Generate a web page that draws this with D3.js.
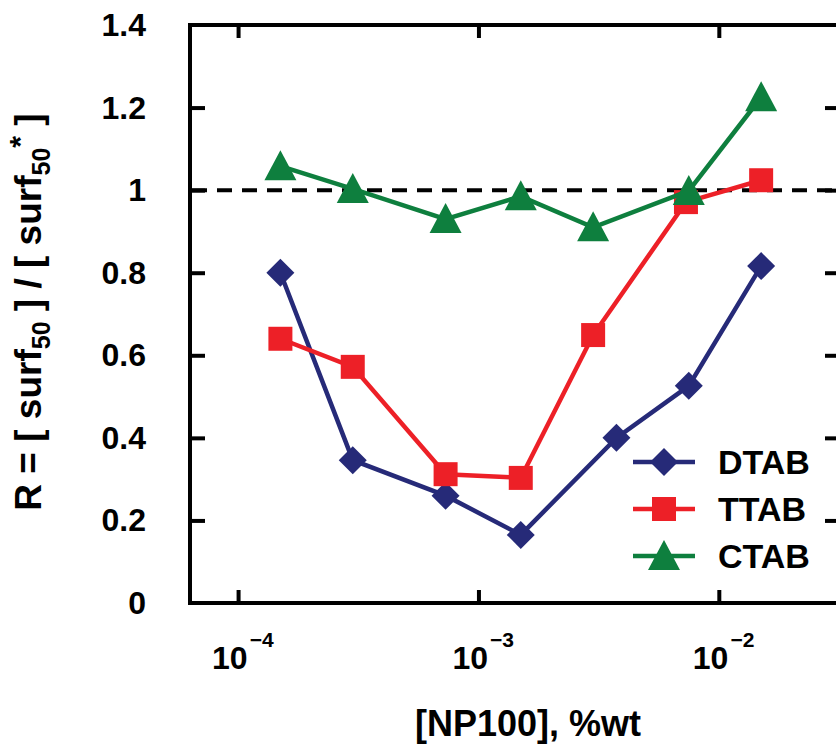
<!DOCTYPE html>
<html>
<head>
<meta charset="utf-8">
<script src="https://cdn.jsdelivr.net/npm/d3@7"></script>
<style>
  body { margin: 0; background: #fff; }
  text { font-family: "Liberation Sans", Arial, sans-serif; font-weight: bold; fill: #000; }
</style>
</head>
<body>
<svg width="836" height="749"></svg>
<script>
// data
var conc = [1.5e-4, 3e-4, 7.3e-4, 1.5e-3, 3.75e-3, 7.5e-3, 1.5e-2];
var concT = [1.5e-4, 3e-4, 7.3e-4, 1.5e-3, 3e-3, 7.3e-3, 1.5e-2];
var concC = [1.5e-4, 3e-4, 7.3e-4, 1.5e-3, 3e-3, 7.5e-3, 1.5e-2];
var dtab = [0.80, 0.346, 0.26, 0.165, 0.40, 0.526, 0.816];
var ttab = [0.64, 0.572, 0.312, 0.303, 0.649, 0.971, 1.024];
var ctab = [1.058, 1.003, 0.93, 0.985, 0.91, 0.998, 1.225];
var xDomain = [Math.pow(10, -4.2), Math.pow(10, -1.5)];
var yTicks = [0, 0.2, 0.4, 0.6, 0.8, 1, 1.2, 1.4];
var xTicks = [1e-4, 1e-3, 1e-2];
var xExp = ["4", "3", "2"];
var names = ["DTAB", "TTAB", "CTAB"];
var colors = ["#262a78", "#ed2027", "#0e7f3e"];

var svg = d3.select("svg");
var L = 190, R = 839, T = 25, B = 603;

var x = d3.scaleLog().domain(xDomain).range([L, R]);
var y = d3.scaleLinear().domain([0, 1.4]).range([B, T]);

// ticks (inward)
function styleAxis(g) {
    g.select(".domain").remove();
    g.selectAll(".tick line").attr("stroke", "#000").attr("stroke-width", 4);
    g.selectAll(".tick text").remove();
}
svg.append("g").attr("transform", "translate(" + L + ",0)")
    .call(d3.axisRight(y).tickValues(yTicks.slice(1, 7)).tickSize(15)).call(styleAxis);
svg.append("g").attr("transform", "translate(" + R + ",0)")
    .call(d3.axisLeft(y).tickValues(yTicks.slice(1, 7)).tickSize(14)).call(styleAxis);
svg.append("g").attr("transform", "translate(0," + B + ")")
    .call(d3.axisTop(x).tickValues(xTicks).tickSize(13)).call(styleAxis);
svg.append("g").attr("transform", "translate(0," + T + ")")
    .call(d3.axisBottom(x).tickValues(xTicks).tickSize(13)).call(styleAxis);

// frame
svg.append("path")
    .attr("d", "M" + R + "," + T + "H" + L + "V" + B + "H" + R)
    .attr("fill", "none").attr("stroke", "#000").attr("stroke-width", 4);

// y tick labels
svg.selectAll("text.ylab").data(yTicks).enter().append("text")
    .attr("class", "ylab")
    .attr("x", 146).attr("y", function (d) { return y(d) + 11; })
    .attr("text-anchor", "end").attr("font-size", 32)
    .text(function (d) { return d; });

// x tick labels 10^-n
xTicks.forEach(function (t, i) {
    var tx = svg.append("text").attr("x", x(t) - 26).attr("y", 669).attr("font-size", 32);
    tx.append("tspan").text("10");
    tx.append("tspan").attr("dy", -22).attr("dx", 2).attr("font-size", 21).text("\u2212" + xExp[i]);
});

// reference line
svg.append("line")
    .attr("x1", L + 2).attr("x2", R).attr("y1", y(1)).attr("y2", y(1))
    .attr("stroke", "#000").attr("stroke-width", 4).attr("stroke-dasharray", "15,10");

// series
var series = [
    { xs: conc, ys: dtab, sym: "diamond" },
    { xs: concT, ys: ttab, sym: "square" },
    { xs: concC, ys: ctab, sym: "triangle" }
];
var line = d3.line().x(function (d) { return x(d[0]); }).y(function (d) { return y(d[1]); });

function marker(sel, s, c) {
    if (s.sym === "diamond") {
        sel.attr("d", "M0,-14L14,0L0,14L-14,0Z").attr("fill", c);
    } else if (s.sym === "triangle") {
        sel.attr("d", "M0,-16L16,14L-16,14Z").attr("fill", c);
    } else {
        sel.attr("d", "M-12,-12H12V12H-12Z").attr("fill", c);
    }
}

series.forEach(function (s, i) {
    var pts = s.xs.map(function (v, j) { return [v, s.ys[j]]; });
    svg.append("path").datum(pts).attr("d", line)
        .attr("fill", "none").attr("stroke", colors[i]).attr("stroke-width", 4.5);
    svg.selectAll("path.m" + i).data(pts).enter().append("path")
        .attr("class", "m" + i)
        .attr("transform", function (d) { return "translate(" + x(d[0]) + "," + y(d[1]) + ")"; })
        .call(marker, s, colors[i]);
});

// legend
var legY = [462, 509, 556];
series.forEach(function (s, i) {
    svg.append("line").attr("x1", 633).attr("x2", 695).attr("y1", legY[i]).attr("y2", legY[i])
        .attr("stroke", colors[i]).attr("stroke-width", 4.5);
    svg.append("path").attr("transform", "translate(664," + legY[i] + ")").call(marker, s, colors[i]);
    svg.append("text").attr("x", 718).attr("y", legY[i] + 12).attr("font-size", 34).text(names[i]);
});

// axis titles
svg.append("text").attr("x", 528).attr("y", 736).attr("text-anchor", "middle")
    .attr("font-size", 36).text("[NP100], %wt");

var yt = svg.append("text").attr("transform", "translate(41,312) rotate(-90)")
    .attr("text-anchor", "middle").attr("font-size", 37);
yt.append("tspan").text("R = [ surf");
yt.append("tspan").attr("dy", 9).attr("font-size", 25).text("50");
yt.append("tspan").attr("dy", -9).text(" ] / [ surf");
yt.append("tspan").attr("dy", 9).attr("font-size", 25).text("50");
yt.append("tspan").attr("dy", -20).attr("font-size", 30).text("*");
yt.append("tspan").attr("dy", 11).text(" ]");
</script>
</body>
</html>
